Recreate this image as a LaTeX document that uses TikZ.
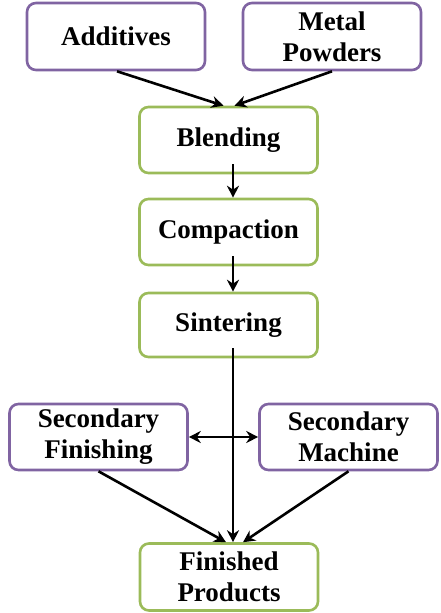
\documentclass[tikz,border=0pt]{standalone}
\usepackage{fontspec}
\setmainfont{Liberation Serif}
\usetikzlibrary{arrows.meta}
\definecolor{boxpurple}{RGB}{128,100,162}
\definecolor{boxgreen}{RGB}{155,187,89}
\begin{document}
\begin{tikzpicture}[x=1pt,y=-1pt,
  base/.style={draw, line width=2.6pt, rounded corners=9pt, fill=white,
    minimum width=178pt, align=center, font=\fontsize{27}{31}\selectfont\bfseries, inner sep=0pt},
  inbox/.style={base, draw=boxpurple},
  procbox/.style={base, draw=boxgreen},
  tip/.tip={Stealth[length=12pt,width=12pt]},
  conn/.style={line width=2.6pt, -tip}]
\useasboundingbox (0,0) rectangle (440,613);
\node[inbox, minimum height=67pt] (add) at (116,36.5) {Additives};
\node[inbox, minimum height=67pt] (metal) at (332,36.5) {Metal\\Powders};
\node[procbox, minimum height=66pt] (blend) at (228.5,140) {Blending};
\node[procbox, minimum height=66pt] (comp) at (228.5,232) {Compaction};
\node[procbox, minimum height=64pt] (sint) at (228.5,325) {Sintering};
\node[inbox, minimum height=66pt] (sfin) at (98.5,437) {Secondary\\Finishing};
\node[inbox, minimum height=66pt] (smac) at (348.5,437) {Secondary\\Machine};
\node[procbox, minimum height=67pt] (fin) at (229,577) {Finished\\Products};
\coordinate (bA) at ([xshift=-5pt]blend.north);
\coordinate (bB) at ([xshift=6pt]blend.north);
\draw[conn] ([xshift=1pt]add.south) -- (bA);
\draw[conn] (metal.south) -- (bB);
\draw[conn, shorten <=-10pt] ([xshift=4.5pt]blend.south) -- ([xshift=4.5pt]comp.north);
\draw[conn, shorten <=-10pt] ([xshift=4.5pt]comp.south) -- ([xshift=4.5pt]sint.north);
\draw[conn, shorten <=-10pt] ([xshift=4.5pt]sint.south) -- ([xshift=4pt]fin.north);
\draw[line width=2.6pt, tip-tip] (sfin.east) -- (smac.west);
\draw[conn] (sfin.south) -- ([xshift=-3pt]fin.north);
\draw[conn] (smac.south) -- ([xshift=14pt]fin.north);
\end{tikzpicture}
\end{document}
